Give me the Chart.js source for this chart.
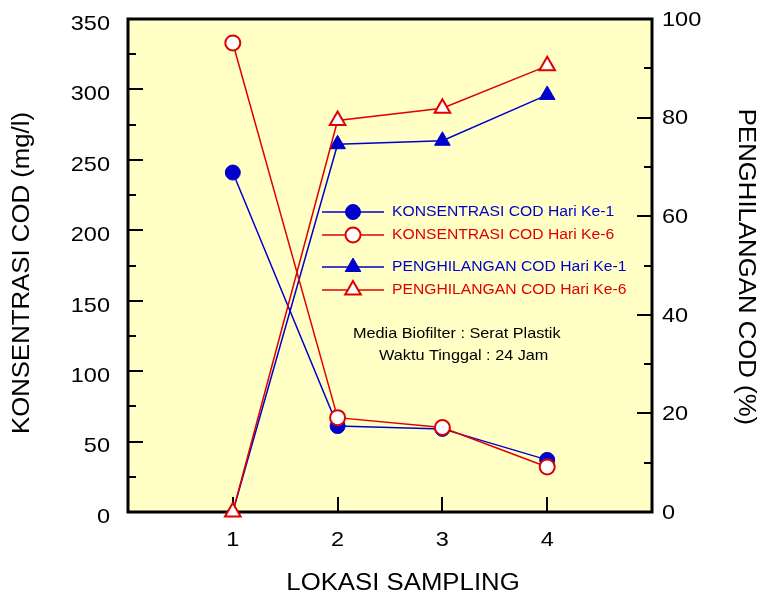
<!DOCTYPE html>
<html>
<head>
<meta charset="utf-8">
<script src="https://cdn.jsdelivr.net/npm/chart.js@4/dist/chart.umd.min.js"></script>
<style>
  html, body { margin: 0; padding: 0; background: #ffffff; }
  #wrap { width: 763px; height: 599px; }
</style>
</head>
<body>
<div id="wrap"><canvas id="chart" width="763" height="599"></canvas></div>
<script>
// data
const lokasi = [1, 2, 3, 4];
const konsentrasiHari1 = [241, 61, 59, 37];
const konsentrasiHari6 = [333, 67, 60, 32];
const penghilanganHari1 = [0, 74.6, 75.3, 84.6];
const penghilanganHari6 = [0, 79.4, 81.9, 90.5];

const BLUE = "#0000cc";
const RED = "#e00000";
const BG = "#ffffc6";
const FONT = "'Liberation Sans', Arial, sans-serif";
const STRETCH = 1.12; // original lettering is a bit wider than Arial

Chart.defaults.font.family = FONT;
Chart.defaults.color = "#000";

function toPoints(values) {
  return lokasi.map((x, i) => ({ x: x, y: values[i] }));
}

function wideText(ctx, text, x, y, align, rot) {
  ctx.save();
  ctx.translate(x, y);
  if (rot) ctx.rotate(rot);
  ctx.scale(STRETCH, 1);
  ctx.textAlign = align;
  ctx.fillText(text, 0, 0);
  ctx.restore();
}

// background + frame + inner ticks + tick labels
const framePlugin = {
  id: "frame",
  beforeDraw(chart) {
    const { ctx, chartArea: a } = chart;
    ctx.save();
    ctx.fillStyle = BG;
    ctx.fillRect(a.left, a.top, a.right - a.left, a.bottom - a.top);
    ctx.restore();
  },
  beforeDatasetsDraw(chart) {
    const { ctx, chartArea: a, scales } = chart;
    ctx.save();
    ctx.strokeStyle = "#000";
    ctx.lineWidth = 2;
    ctx.beginPath();
    for (let v = 25; v < 350; v += 25) {
      const y = Math.round(scales.y.getPixelForValue(v));
      const len = v % 50 === 0 ? 15 : 8;
      ctx.moveTo(a.left, y);
      ctx.lineTo(a.left + len, y);
    }
    for (let v = 10; v < 100; v += 10) {
      const y = Math.round(scales.y1.getPixelForValue(v));
      const len = v % 20 === 0 ? 15 : 8;
      ctx.moveTo(a.right, y);
      ctx.lineTo(a.right - len, y);
    }
    lokasi.forEach(v => {
      const x = Math.round(scales.x.getPixelForValue(v));
      ctx.moveTo(x, a.bottom);
      ctx.lineTo(x, a.bottom - 15);
    });
    ctx.stroke();
    ctx.lineWidth = 3;
    ctx.strokeRect(a.left, a.top, a.right - a.left, a.bottom - a.top);

    // tick labels
    ctx.fillStyle = "#000";
    ctx.font = "21px " + FONT;
    ctx.textBaseline = "middle";
    scales.y.ticks.forEach(t => {
      wideText(ctx, String(t.value), a.left - 18, scales.y.getPixelForValue(t.value) + 5, "right");
    });
    scales.y1.ticks.forEach(t => {
      wideText(ctx, String(t.value), a.right + 10, scales.y1.getPixelForValue(t.value) + 1, "left");
    });
    lokasi.forEach(v => {
      wideText(ctx, String(v), scales.x.getPixelForValue(v), 540, "center");
    });
    ctx.restore();
  }
};

// legend inside the plot, axis titles, note
const textPlugin = {
  id: "texts",
  afterDraw(chart) {
    const { ctx } = chart;
    ctx.save();

    const rows = [212, 235, 267, 290];
    const mx = 353;
    chart.data.datasets.forEach((ds, i) => {
      const y = rows[i];
      ctx.strokeStyle = ds.borderColor;
      ctx.lineWidth = 1.5;
      ctx.beginPath();
      ctx.moveTo(322, y);
      ctx.lineTo(384, y);
      ctx.stroke();
      ctx.fillStyle = ds.pointBackgroundColor;
      ctx.strokeStyle = ds.pointBorderColor;
      ctx.lineWidth = ds.pointBorderWidth;
      Chart.helpers.drawPoint(ctx, {
        pointStyle: ds.pointStyle,
        radius: ds.pointRadius,
        rotation: 0,
        borderWidth: ds.pointBorderWidth
      }, mx, y);
      ctx.fillStyle = ds.borderColor;
      ctx.font = "14px " + FONT;
      ctx.textBaseline = "middle";
      wideText(ctx, ds.label, 392, y, "left");
    });

    ctx.fillStyle = "#000";
    ctx.font = "14.5px " + FONT;
    ctx.textBaseline = "middle";
    wideText(ctx, "Media Biofilter : Serat Plastik", 353, 334, "left");
    wideText(ctx, "Waktu Tinggal : 24 Jam", 379, 356, "left");

    ctx.font = "23px " + FONT;
    wideText(ctx, "LOKASI SAMPLING", 403, 584, "center");
    wideText(ctx, "KONSENTRASI COD (mg/l)", 23, 273, "center", -Math.PI / 2);
    wideText(ctx, "PENGHILANGAN COD (%)", 745, 267, "center", Math.PI / 2);
    ctx.restore();
  }
};

new Chart(document.getElementById("chart"), {
  type: "line",
  data: {
    datasets: [
      {
        label: "KONSENTRASI COD Hari Ke-1",
        data: toPoints(konsentrasiHari1),
        yAxisID: "y",
        borderColor: BLUE,
        backgroundColor: BLUE,
        pointBackgroundColor: BLUE,
        pointBorderColor: BLUE,
        pointStyle: "circle",
        pointRadius: 7.5,
        pointBorderWidth: 1,
        borderWidth: 1.5,
        order: 1
      },
      {
        label: "KONSENTRASI COD Hari Ke-6",
        data: toPoints(konsentrasiHari6),
        yAxisID: "y",
        borderColor: RED,
        backgroundColor: "#ffffff",
        pointBackgroundColor: "#ffffff",
        pointBorderColor: RED,
        pointStyle: "circle",
        pointRadius: 7.5,
        pointBorderWidth: 2,
        borderWidth: 1.5,
        order: 0
      },
      {
        label: "PENGHILANGAN COD Hari Ke-1",
        data: toPoints(penghilanganHari1),
        yAxisID: "y1",
        borderColor: BLUE,
        backgroundColor: BLUE,
        pointBackgroundColor: BLUE,
        pointBorderColor: BLUE,
        pointStyle: "triangle",
        pointRadius: 9,
        pointBorderWidth: 1,
        borderWidth: 1.5,
        order: 1
      },
      {
        label: "PENGHILANGAN COD Hari Ke-6",
        data: toPoints(penghilanganHari6),
        yAxisID: "y1",
        borderColor: RED,
        backgroundColor: "#ffffff",
        pointBackgroundColor: "#ffffff",
        pointBorderColor: RED,
        pointStyle: "triangle",
        pointRadius: 9,
        pointBorderWidth: 2,
        borderWidth: 1.5,
        order: 0
      }
    ]
  },
  options: {
    responsive: false,
    animation: false,
    clip: false,
    layout: { padding: { top: 19, left: 0, right: 0, bottom: 0 } },
    plugins: {
      legend: { display: false },
      tooltip: { enabled: false }
    },
    scales: {
      x: {
        type: "linear",
        min: 0,
        max: 5,
        grid: { display: false, drawTicks: false },
        border: { display: false },
        ticks: { display: false, stepSize: 1 },
        afterFit: s => { s.height = 87; }
      },
      y: {
        position: "left",
        min: 0,
        max: 350,
        grid: { display: false, drawTicks: false },
        border: { display: false },
        ticks: { display: false, stepSize: 50 },
        afterFit: s => { s.width = 128; }
      },
      y1: {
        position: "right",
        min: 0,
        max: 100,
        grid: { display: false, drawTicks: false },
        border: { display: false },
        ticks: { display: false, stepSize: 20 },
        afterFit: s => { s.width = 111; }
      }
    }
  },
  plugins: [framePlugin, textPlugin]
});
</script>
</body>
</html>
